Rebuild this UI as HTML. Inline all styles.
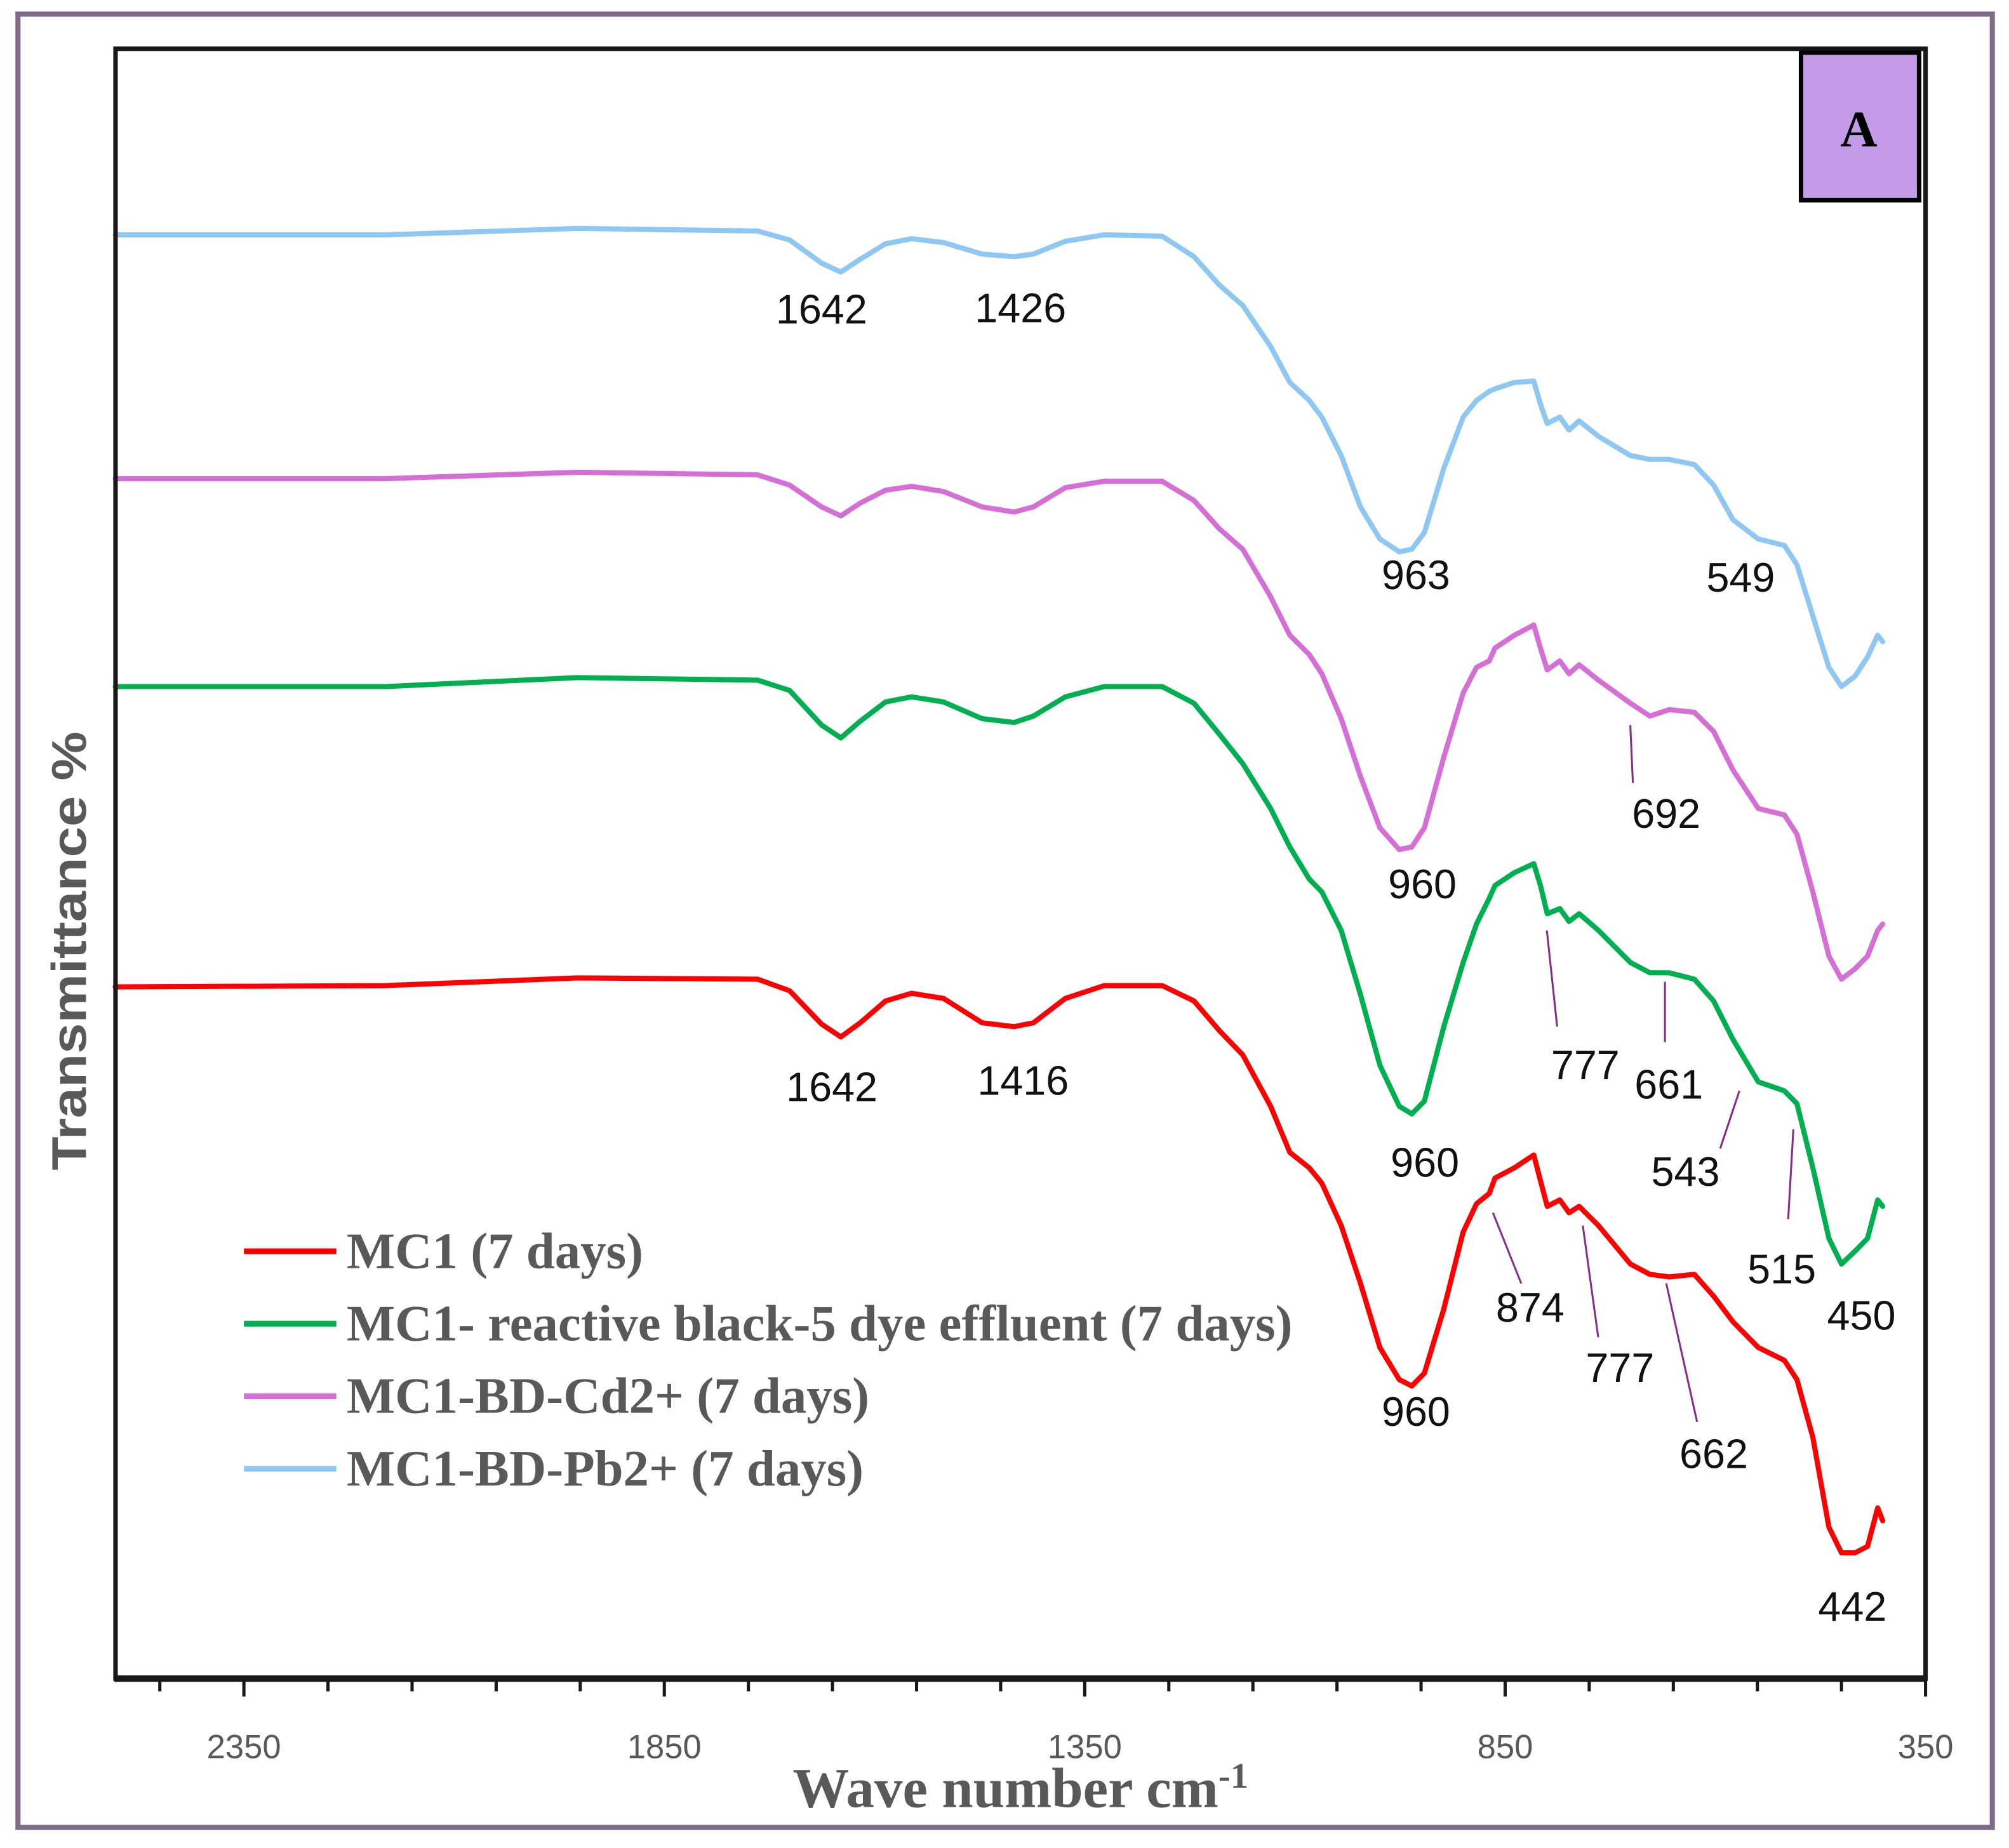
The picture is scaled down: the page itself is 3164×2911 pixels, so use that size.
<!DOCTYPE html>
<html><head><meta charset="utf-8">
<style>html,body{margin:0;padding:0;background:#fff}svg{display:block}</style>
</head><body>
<svg id="chart" width="3164" height="2911" viewBox="0 0 1565 1440" preserveAspectRatio="none" xmlns="http://www.w3.org/2000/svg">
<rect x="14" y="11" width="1538" height="1413" fill="#fff" stroke="#7f6a87" stroke-width="4"/>
<g id="series"></g>
<rect x="90" y="38" width="1410" height="1270" fill="none" stroke="#1a1619" stroke-width="3.5"/>
<line x1="89" y1="1308" x2="1501" y2="1308" stroke="#1a1619" stroke-width="5"/>
<g id="ticks"></g>
<rect x="1403" y="41" width="92" height="115" fill="#c49be8" stroke="#000" stroke-width="3.5"/>
<text x="1448" y="114" text-anchor="middle" font-family="Liberation Serif, serif" font-weight="bold" font-size="40">A</text>
<text transform="translate(67,741) rotate(-90)" text-anchor="middle" font-family="Liberation Sans, sans-serif" font-weight="bold" font-size="38" textLength="342" lengthAdjust="spacingAndGlyphs" fill="#595959">Transmittance %</text>
<text x="795" y="1408" text-anchor="middle" font-family="Liberation Serif, serif" font-weight="bold" font-size="44" fill="#595959">Wave number cm<tspan dy="-15" font-size="28">-1</tspan></text>
<g id="legend" font-family="Liberation Serif, serif" font-weight="bold" font-size="40" fill="#595959"></g>
<g id="annots" font-family="Liberation Sans, sans-serif" font-size="32" fill="#111" text-anchor="middle"></g>
</svg>
<script>
const wavenumbers = [2503,2182,1953,1739,1701,1663,1640,1617,1587,1556,1518,1472,1434,1411,1373,1327,1258,1220,1190,1162,1129,1106,1083,1068,1045,1022,999,976,961,946,923,900,884,869,862,839,816,808,800,785,774,762,739,701,678,655,625,602,579,549,518,503,484,465,450,434,419,407,401];
const mc1 = [539,540,546,545,536,510,500,511,528,534,530,511,508,511,530,540,540,528,505,486,446,410,398,386,353,308,258,233,228,238,288,348,370,378,390,398,408,388,368,373,363,368,353,323,315,313,315,298,278,258,248,233,188,118,98,98,103,133,123];
const mc1Dye = [773,773,780,778,770,743,733,746,761,765,761,748,745,750,765,773,773,760,736,713,678,648,623,613,583,533,478,446,440,450,508,558,588,608,618,628,635,618,596,600,590,596,583,558,550,550,545,528,498,465,458,448,398,343,323,333,343,373,368];
const mc1Cd = [935,935,940,938,930,913,906,916,926,929,925,913,909,913,928,933,933,918,896,880,843,813,798,783,748,703,663,646,648,663,718,768,788,793,803,813,821,803,786,793,783,790,778,760,750,755,753,738,708,678,673,658,613,563,545,553,563,583,588];
const mc1Pb = [1125,1125,1130,1128,1121,1103,1096,1106,1118,1122,1119,1110,1108,1110,1120,1125,1124,1108,1086,1070,1038,1010,996,983,953,913,888,878,880,893,943,983,996,1003,1005,1010,1011,993,978,983,973,980,968,953,950,950,946,930,903,888,883,868,828,788,773,781,796,813,808];
const majorTicks = [2350,1850,1350,850,350];
const minorTicks = [2450,2250,2150,2050,1950,1750,1650,1550,1450,1250,1150,1050,950,750,650,550,450];
const legendLabels = ["MC1 (7 days)","MC1- reactive black-5 dye  effluent (7 days)","MC1-BD-Cd2+ (7 days)","MC1-BD-Pb2+ (7 days)"];

const NS="http://www.w3.org/2000/svg";
function xs(v){return 190+(2350-v)*0.655;}
function ys(t){return 1308-t;}
function mk(tag,attrs,parent){const e=document.createElementNS(NS,tag);for(const k in attrs)e.setAttribute(k,attrs[k]);parent.appendChild(e);return e;}

const sg=document.getElementById('series');
const seriesList=[[mc1,'#ff0000','series-mc1'],[mc1Dye,'#00b050','series-mc1-dye'],[mc1Cd,'#d56fd5','series-mc1-cd'],[mc1Pb,'#8ec8f2','series-mc1-pb']];
seriesList.forEach(s=>{
  let d='';
  s[0].forEach((t,i)=>{d+=(i?'L':'M')+xs(wavenumbers[i]).toFixed(1)+','+ys(t).toFixed(1);});
  const p=mk('path',{d:d,fill:'none',stroke:s[1],'stroke-width':4,'stroke-linejoin':'round','stroke-linecap':'round'},sg);
  
  
});

const tg=document.getElementById('ticks');
majorTicks.forEach(v=>{
  const l=mk('line',{x1:xs(v),x2:xs(v),y1:1308,y2:1322,stroke:'#1a1619','stroke-width':2.5},tg);
  
  
  const t=mk('text',{x:xs(v),y:1370,'text-anchor':'middle','font-family':'Liberation Sans, sans-serif','font-size':26,fill:'#595959'},tg);
  
  
  t.textContent=v;
});
minorTicks.forEach(v=>{
  const l=mk('line',{x1:xs(v),x2:xs(v),y1:1308,y2:1318,stroke:'#1a1619','stroke-width':2.5},tg);
  
  
});

const lg=document.getElementById('legend');
const lcolors=['#ff0000','#00b050','#d56fd5','#8ec8f2'];
legendLabels.forEach((lab,i)=>{
  const y=975+i*56.5;
  const l=mk('line',{x1:190,x2:262,y1:y,y2:y,stroke:lcolors[i],'stroke-width':4.5},lg);
  
  
  const t=mk('text',{x:270,y:y+13,'xml:space':'preserve'},lg);
  
  
  t.textContent=lab;
});

const ag=document.getElementById('annots');
const labels=[["1642",640,241],["1426",795,240],["963",1103,448],["549",1356,450],["960",1108,689],["692",1298,634],["777",1235,830],["661",1300,845],["543",1313,913],["515",1388,989],["450",1450,1025],["960",1110,906],["1642",648,847],["1416",797,842],["960",1103,1100],["874",1192,1019],["777",1262,1066],["662",1335,1133],["442",1443,1252]];
labels.forEach(a=>{
  const t=mk('text',{x:a[1],y:a[2]+11},ag);
  
  
  t.textContent=a[0];
});
const leaders=[[1270,565,1272,610],[1205,725,1213,800],[1297,765,1297,812],[1355,850,1340,895],[1397,880,1393,950],[1163,945,1185,1000],[1233,955,1245,1042],[1298,1000,1322,1108]];
leaders.forEach(l=>{
  const e=mk('line',{x1:l[0],y1:l[1],x2:l[2],y2:l[3],stroke:'#8a2a8a','stroke-width':1.5},ag);
  
  
});
</script>
</body></html>
